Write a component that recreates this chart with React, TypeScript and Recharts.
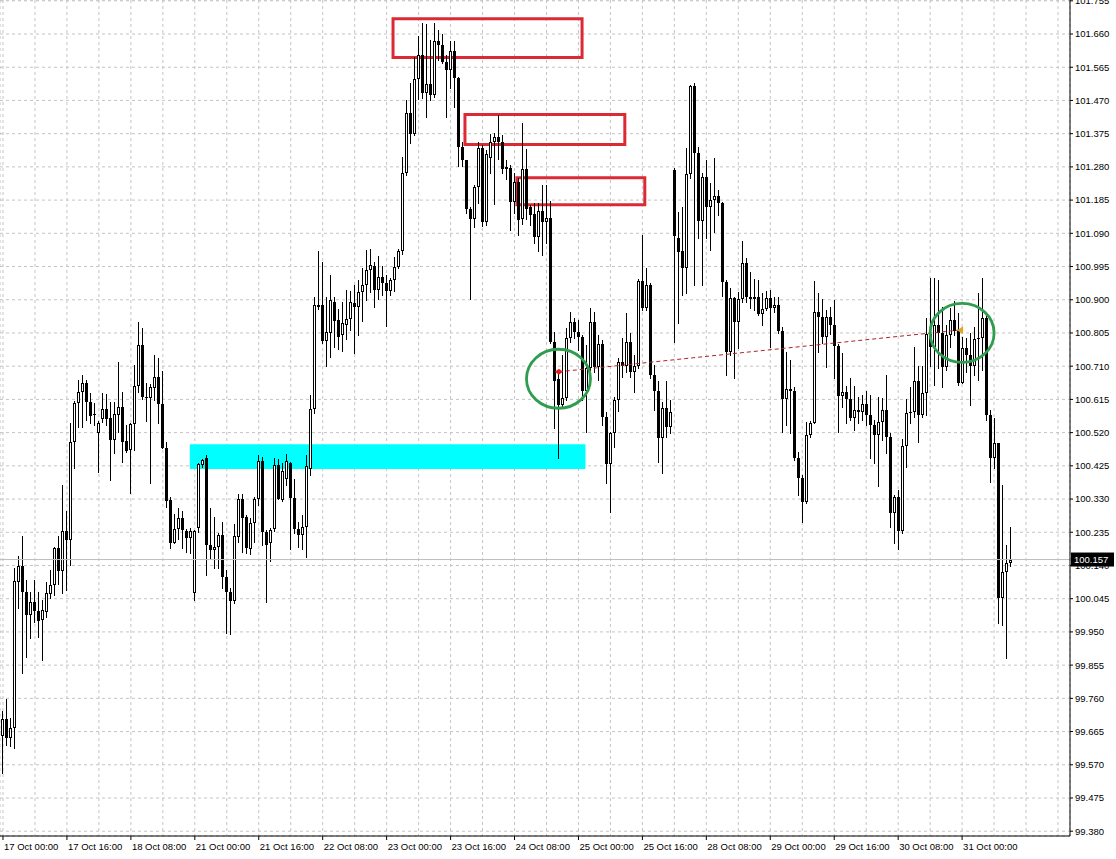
import {
  ComposedChart, Bar, XAxis, YAxis, CartesianGrid,
  ReferenceArea, ReferenceLine, ReferenceDot,
} from 'recharts'

const FONT = '"Liberation Sans", Arial, sans-serif'

// H1 candles, 17 Oct 00:00 .. 31 Oct 12:00
const OPEN = [
  99.652, 99.700, 99.646, 99.675, 100.092, 100.138, 100.064, 99.998, 100.035, 100.009,
  99.984, 100.006, 100.058, 100.084, 100.190, 100.124, 100.238, 100.213, 100.493, 100.604,
  100.636, 100.661, 100.607, 100.573, 100.520, 100.559, 100.587, 100.561, 100.499, 100.570,
  100.593, 100.496, 100.470, 100.544, 100.653, 100.770, 100.621, 100.619, 100.647, 100.679,
  100.602, 100.476, 100.327, 100.204, 100.244, 100.276, 100.238, 100.218, 100.061, 100.247,
  100.427, 100.447, 100.199, 100.184, 100.193, 100.227, 100.107, 100.064, 100.038, 100.221,
  100.330, 100.279, 100.187, 100.261, 100.330, 100.438, 100.235, 100.204, 100.244, 100.427,
  100.327, 100.387, 100.433, 100.333, 100.244, 100.227, 100.250, 100.416, 100.587, 100.879,
  100.885, 100.782, 100.804, 100.893, 100.842, 100.799, 100.827, 100.845, 100.890, 100.879,
  100.922, 100.942, 100.985, 100.996, 100.928, 100.965, 100.948, 100.925, 100.956, 100.993,
  101.039, 101.262, 101.434, 101.374, 101.531, 101.600, 101.491, 101.517, 101.486, 101.640,
  101.628, 101.580, 101.557, 101.611, 101.534, 101.337, 101.299, 101.159, 101.131, 101.222,
  101.334, 101.122, 101.305, 101.351, 101.365, 101.351, 101.279, 101.277, 101.179, 101.236,
  101.131, 101.274, 101.165, 101.145, 101.079, 101.154, 101.122, 101.134, 100.779, 100.673,
  100.599, 100.619, 100.790, 100.836, 100.807, 100.793, 100.639, 100.704, 100.836, 100.707,
  100.773, 100.564, 100.430, 100.518, 100.613, 100.722, 100.710, 100.779, 100.693, 100.710,
  100.953, 100.876, 100.942, 100.685, 100.639, 100.504, 100.590, 100.536, 101.271, 101.076,
  101.039, 100.991, 101.259, 101.511, 101.319, 101.125, 101.251, 101.165, 101.185, 101.197,
  101.177, 100.950, 100.750, 100.905, 100.836, 100.902, 101.005, 100.908, 100.902, 100.908,
  100.859, 100.873, 100.905, 100.876, 100.885, 100.810, 100.616, 100.645, 100.640, 100.447,
  100.390, 100.321, 100.513, 100.547, 100.865, 100.850, 100.793, 100.850, 100.827, 100.767,
  100.624, 100.636, 100.616, 100.561, 100.584, 100.579, 100.602, 100.570, 100.541, 100.513,
  100.550, 100.584, 100.507, 100.290, 100.336, 100.238, 100.481, 100.576, 100.579, 100.667,
  100.570, 100.633, 100.802, 100.765, 100.827, 100.804, 100.707, 100.799, 100.842, 100.810,
  100.661, 100.762, 100.742, 100.710, 100.788, 100.790, 100.848, 100.570, 100.447, 100.490,
  100.047, 100.121, 100.147,
]
const HIGH = [
  99.723, 99.758, 99.703, 100.132, 100.167, 100.224, 100.098, 100.064, 100.098, 100.064,
  100.041, 100.092, 100.127, 100.193, 100.224, 100.370, 100.295, 100.547, 100.610, 100.670,
  100.685, 100.670, 100.633, 100.604, 100.553, 100.633, 100.630, 100.607, 100.607, 100.721,
  100.636, 100.541, 100.547, 100.713, 100.836, 100.819, 100.661, 100.659, 100.742, 100.734,
  100.696, 100.493, 100.336, 100.287, 100.304, 100.295, 100.244, 100.247, 100.241, 100.432,
  100.444, 100.456, 100.304, 100.279, 100.233, 100.264, 100.127, 100.075, 100.259, 100.345,
  100.345, 100.284, 100.276, 100.336, 100.456, 100.450, 100.241, 100.247, 100.447, 100.444,
  100.432, 100.459, 100.436, 100.387, 100.264, 100.284, 100.456, 100.628, 100.908, 101.039,
  101.007, 100.908, 100.970, 100.908, 100.873, 100.893, 100.928, 100.925, 100.942, 100.956,
  100.991, 101.042, 101.045, 101.007, 101.025, 100.996, 100.970, 100.962, 101.022, 101.045,
  101.308, 101.471, 101.520, 101.594, 101.654, 101.691, 101.689, 101.643, 101.691, 101.671,
  101.660, 101.600, 101.640, 101.640, 101.537, 101.351, 101.299, 101.165, 101.228, 101.351,
  101.342, 101.328, 101.374, 101.377, 101.428, 101.371, 101.299, 101.285, 101.262, 101.248,
  101.405, 101.331, 101.171, 101.177, 101.177, 101.228, 101.228, 101.182, 100.807, 100.693,
  100.742, 100.819, 100.865, 100.848, 100.842, 100.799, 100.770, 100.876, 100.865, 100.799,
  100.785, 100.579, 100.521, 100.622, 100.734, 100.790, 100.862, 100.804, 100.742, 100.959,
  101.085, 100.991, 100.948, 100.713, 100.667, 100.607, 100.667, 100.613, 101.277, 101.151,
  101.165, 101.334, 101.514, 101.520, 101.337, 101.262, 101.299, 101.234, 101.305, 101.214,
  101.179, 100.956, 100.933, 100.908, 100.922, 101.068, 101.019, 100.979, 100.959, 100.956,
  100.919, 100.925, 100.928, 100.908, 100.908, 100.822, 100.750, 100.727, 100.650, 100.464,
  100.399, 100.550, 100.553, 100.953, 100.919, 100.902, 100.870, 100.879, 100.899, 100.773,
  100.747, 100.653, 100.676, 100.653, 100.622, 100.627, 100.639, 100.627, 100.556, 100.622,
  100.619, 100.685, 100.518, 100.342, 100.356, 100.501, 100.616, 100.650, 100.765, 100.710,
  100.710, 100.848, 100.962, 100.962, 100.956, 100.879, 100.827, 100.876, 100.896, 100.862,
  100.793, 100.790, 100.804, 100.822, 100.919, 100.962, 100.856, 100.584, 100.561, 100.490,
  100.370, 100.199, 100.250,
]
const LOW = [
  99.546, 99.627, 99.624, 99.618, 100.018, 99.832, 99.878, 99.932, 99.978, 99.935,
  99.869, 99.992, 100.047, 100.056, 100.087, 100.061, 100.070, 100.141, 100.418, 100.536,
  100.536, 100.556, 100.547, 100.541, 100.407, 100.550, 100.541, 100.384, 100.462, 100.521,
  100.436, 100.464, 100.347, 100.470, 100.636, 100.616, 100.553, 100.376, 100.613, 100.547,
  100.476, 100.307, 100.190, 100.204, 100.216, 100.190, 100.178, 100.175, 100.041, 100.235,
  100.421, 100.112, 100.161, 100.132, 100.132, 100.075, 99.946, 99.944, 100.032, 100.207,
  100.178, 100.175, 100.173, 100.207, 100.313, 100.199, 100.035, 100.152, 100.238, 100.330,
  100.324, 100.370, 100.187, 100.233, 100.193, 100.187, 100.164, 100.399, 100.576, 100.873,
  100.776, 100.710, 100.736, 100.765, 100.759, 100.753, 100.788, 100.813, 100.747, 100.799,
  100.839, 100.899, 100.922, 100.879, 100.902, 100.913, 100.824, 100.913, 100.925, 100.991,
  101.031, 101.257, 101.348, 101.371, 101.474, 101.477, 101.422, 101.471, 101.480, 101.585,
  101.577, 101.422, 101.506, 101.451, 101.282, 101.282, 101.148, 100.902, 101.108, 101.176,
  101.111, 101.114, 101.262, 101.174, 101.302, 101.262, 101.245, 101.099, 101.148, 101.085,
  101.116, 101.131, 101.114, 101.062, 101.039, 101.028, 101.062, 100.776, 100.533, 100.447,
  100.593, 100.613, 100.779, 100.790, 100.756, 100.613, 100.521, 100.699, 100.693, 100.670,
  100.541, 100.376, 100.293, 100.479, 100.581, 100.679, 100.693, 100.679, 100.636, 100.704,
  100.870, 100.870, 100.676, 100.584, 100.436, 100.404, 100.507, 100.518, 100.779, 100.833,
  100.913, 100.919, 101.248, 100.942, 101.076, 100.942, 101.076, 101.042, 101.093, 101.142,
  100.910, 100.685, 100.742, 100.676, 100.762, 100.893, 100.893, 100.876, 100.870, 100.856,
  100.827, 100.870, 100.765, 100.865, 100.804, 100.521, 100.541, 100.518, 100.441, 100.342,
  100.264, 100.318, 100.507, 100.547, 100.750, 100.776, 100.707, 100.802, 100.676, 100.521,
  100.593, 100.547, 100.556, 100.527, 100.547, 100.556, 100.541, 100.447, 100.433, 100.367,
  100.499, 100.462, 100.250, 100.204, 100.187, 100.233, 100.421, 100.547, 100.564, 100.493,
  100.564, 100.570, 100.710, 100.656, 100.704, 100.650, 100.699, 100.765, 100.799, 100.656,
  100.661, 100.693, 100.599, 100.685, 100.670, 100.699, 100.556, 100.379, 100.418, 99.975,
  99.970, 99.875, 100.138,
]
const CLOSE = [
  99.700, 99.646, 99.675, 100.095, 100.138, 100.064, 99.998, 100.035, 100.009, 99.981,
  100.012, 100.061, 100.084, 100.190, 100.124, 100.238, 100.213, 100.493, 100.604, 100.636,
  100.661, 100.607, 100.567, 100.570, 100.547, 100.587, 100.559, 100.499, 100.573, 100.593,
  100.493, 100.467, 100.544, 100.653, 100.770, 100.621, 100.619, 100.650, 100.679, 100.602,
  100.476, 100.324, 100.204, 100.244, 100.276, 100.241, 100.218, 100.238, 100.238, 100.430,
  100.441, 100.199, 100.184, 100.193, 100.227, 100.107, 100.064, 100.038, 100.224, 100.330,
  100.276, 100.190, 100.261, 100.330, 100.438, 100.235, 100.199, 100.241, 100.427, 100.330,
  100.410, 100.438, 100.333, 100.244, 100.227, 100.250, 100.424, 100.587, 100.885, 100.885,
  100.782, 100.807, 100.899, 100.839, 100.793, 100.833, 100.845, 100.893, 100.879, 100.922,
  100.942, 100.985, 100.999, 100.928, 100.965, 100.948, 100.925, 100.956, 100.993, 101.039,
  101.262, 101.434, 101.374, 101.531, 101.600, 101.491, 101.517, 101.486, 101.640, 101.628,
  101.580, 101.557, 101.611, 101.534, 101.337, 101.299, 101.159, 101.131, 101.222, 101.334,
  101.122, 101.317, 101.351, 101.365, 101.351, 101.274, 101.274, 101.179, 101.236, 101.128,
  101.274, 101.159, 101.142, 101.079, 101.154, 101.122, 101.134, 100.779, 100.667, 100.599,
  100.619, 100.790, 100.836, 100.807, 100.793, 100.639, 100.704, 100.836, 100.707, 100.773,
  100.564, 100.430, 100.518, 100.613, 100.722, 100.710, 100.779, 100.693, 100.710, 100.953,
  100.876, 100.942, 100.685, 100.639, 100.504, 100.590, 100.536, 100.579, 101.082, 101.036,
  100.991, 101.259, 101.511, 101.319, 101.125, 101.251, 101.165, 101.185, 101.197, 101.177,
  100.950, 100.750, 100.905, 100.836, 100.902, 101.005, 100.908, 100.902, 100.908, 100.859,
  100.873, 100.905, 100.876, 100.885, 100.810, 100.616, 100.645, 100.640, 100.447, 100.390,
  100.321, 100.513, 100.547, 100.865, 100.850, 100.793, 100.850, 100.827, 100.767, 100.624,
  100.636, 100.616, 100.561, 100.584, 100.579, 100.602, 100.570, 100.541, 100.513, 100.550,
  100.584, 100.507, 100.290, 100.336, 100.238, 100.481, 100.576, 100.579, 100.667, 100.570,
  100.633, 100.802, 100.765, 100.827, 100.804, 100.707, 100.799, 100.842, 100.810, 100.661,
  100.762, 100.742, 100.710, 100.788, 100.790, 100.848, 100.570, 100.447, 100.490, 100.047,
  100.121, 100.147, 100.157,
]

const PRICE_TICKS = [
  99.380, 99.475, 99.570, 99.665, 99.760, 99.855, 99.950, 100.045, 100.140,
  100.235, 100.330, 100.425, 100.520, 100.615, 100.710, 100.805, 100.900,
  100.995, 101.090, 101.185, 101.280, 101.375, 101.470, 101.565, 101.660, 101.755,
]
const TIME_TICKS = [0, 16, 32, 48, 64, 80, 96, 112, 128, 144, 160, 176, 192, 208, 224, 240]
const TIME_LABELS = [
  '17 Oct 00:00', '17 Oct 16:00', '18 Oct 08:00', '21 Oct 00:00', '21 Oct 16:00',
  '22 Oct 08:00', '23 Oct 00:00', '23 Oct 16:00', '24 Oct 08:00', '25 Oct 00:00',
  '25 Oct 16:00', '28 Oct 08:00', '29 Oct 00:00', '29 Oct 16:00', '30 Oct 08:00', '31 Oct 00:00',
]
const GRID_TICKS = [
  0, 8, 16, 24, 32, 40, 48, 56, 64, 72, 80, 88, 96, 104, 112, 120, 128,
  136, 144, 152, 160, 168, 176, 184, 192, 200, 208, 216, 224, 232, 240, 248, 256, 264,
]
const LAST_PRICE = 100.157

// drawn objects (bar index / price)
const RED_BOXES = [
  { x1: 97.6, x2: 144.9, y1: 101.593, y2: 101.704 },
  { x1: 115.6, x2: 155.6, y1: 101.344, y2: 101.430 },
  { x1: 128.6, x2: 160.6, y1: 101.172, y2: 101.249 },
]
const CYAN_ZONE = { x1: 46.75, x2: 145.75, y1: 100.416, y2: 100.487 }
const CIRCLES = [
  { x: 139, y: 100.674 },
  { x: 240, y: 100.805 },
]
const TREND = { x1: 139.1, y1: 100.694, x2: 239, y2: 100.813 }

const X_DOMAIN: [number, number] = [-0.75, 267]
const Y_DOMAIN: [number, number] = [99.3663, 101.7573]

const candles = OPEN.map((o, i) => ({
  i, open: o, high: HIGH[i], low: LOW[i], close: CLOSE[i], range: [LOW[i], HIGH[i]],
}))

function Candle(props: any) {
  const { x, y, width, height, payload } = props
  if (!payload || x == null || y == null) return null
  const { open, close, high, low } = payload
  const top0 = Math.min(y, y + height)
  const h = Math.abs(height)
  const span = high - low
  const toY = (v: number) => (span > 0 ? top0 + ((high - v) / span) * h : top0)
  const col = Math.round(x + width / 2)
  const wx = col + 0.5
  const yH = Math.round(toY(high))
  const yL = Math.round(toY(low))
  const top = Math.round(toY(Math.max(open, close)))
  const bot = Math.round(toY(Math.min(open, close)))
  const bull = close >= open
  return (
    <g>
      <line x1={wx} x2={wx} y1={yH} y2={yL + 1} stroke="#000" strokeWidth={1} />
      {bull && bot - top >= 2 ? (
        <rect x={col - 0.5} y={top + 0.5} width={2} height={bot - top - 1} fill="#fff" stroke="#000" strokeWidth={1} />
      ) : (
        <rect x={col - 1} y={top} width={3} height={Math.max(bot - top, 1)} fill="#000" />
      )}
    </g>
  )
}

function TimeTick({ x, y, payload }: any) {
  const idx = TIME_TICKS.indexOf(payload.value)
  return (
    <text x={x + 1} y={y + 8} fontSize={9.5} fontFamily={FONT} fill="#000">
      {TIME_LABELS[idx]}
    </text>
  )
}

function PriceTag({ viewBox }: any) {
  if (!viewBox) return null
  const x = viewBox.x + viewBox.width + 1
  const y = viewBox.y
  return (
    <g>
      <rect x={x} y={y - 7} width={43} height={14} fill="#000" />
      <text x={x + 3} y={y + 3.5} fontSize={9.5} fontFamily={FONT} fill="#fff">
        {LAST_PRICE.toFixed(3)}
      </text>
    </g>
  )
}

function Ring({ cx, cy }: any) {
  return <ellipse cx={cx} cy={cy} rx={32} ry={29.5} fill="none" stroke="#2f9d4e" strokeWidth={2.8} />
}

function StartMark({ cx, cy }: any) {
  return (
    <path d={`M${cx - 4},${cy} L${cx},${cy - 3} L${cx + 4},${cy} L${cx},${cy + 3} Z`} fill="#e02020" />
  )
}

function EndMark({ cx, cy }: any) {
  return <path d={`M${cx - 1},${cy} L${cx + 5},${cy - 4} L${cx + 5},${cy + 4} Z`} fill="#e0a526" />
}

export default function App() {
  return (
    <div style={{ position: 'absolute', left: 0, top: 0, width: 1116, height: 859, background: '#fff' }}>
      <ComposedChart width={1116} height={859} data={candles} margin={{ top: 0, right: 0, bottom: 0, left: 0 }}>
        <CartesianGrid xAxisId="grid" stroke="#c4c4c4" strokeDasharray="3 3" />
        <XAxis
          dataKey="i" type="number" domain={X_DOMAIN} allowDataOverflow
          ticks={TIME_TICKS} interval={0} height={23} tickSize={4}
          tick={<TimeTick />} axisLine={{ stroke: '#000' }} tickLine={{ stroke: '#000' }}
        />
        <XAxis xAxisId="grid" dataKey="i" type="number" domain={X_DOMAIN} allowDataOverflow ticks={GRID_TICKS} interval={0} hide />
        <YAxis
          orientation="right" type="number" domain={Y_DOMAIN} allowDataOverflow
          ticks={PRICE_TICKS} interval={0} width={46} tickSize={3} tickMargin={2}
          tickFormatter={(v: number) => v.toFixed(3)}
          tick={{ fontSize: 9.5, fill: '#000', fontFamily: FONT }}
          axisLine={{ stroke: '#000' }} tickLine={{ stroke: '#000' }}
        />
        <ReferenceArea
          x1={CYAN_ZONE.x1} x2={CYAN_ZONE.x2} y1={CYAN_ZONE.y1} y2={CYAN_ZONE.y2}
          fill="#00ffff" fillOpacity={1} stroke="none"
        />
        <ReferenceLine y={LAST_PRICE} stroke="#bdbdbd" strokeWidth={1} label={PriceTag} />
        <Bar dataKey="range" barSize={3} shape={<Candle />} isAnimationActive={false} />
        {RED_BOXES.map((b, k) => (
          <ReferenceArea key={k} x1={b.x1} x2={b.x2} y1={b.y1} y2={b.y2} fill="none" stroke="#dc2a35" strokeWidth={3} />
        ))}
        <ReferenceLine
          segment={[{ x: TREND.x1, y: TREND.y1 }, { x: TREND.x2, y: TREND.y2 }]}
          stroke="#b22222" strokeWidth={1} strokeDasharray="4 3"
        />
        <ReferenceDot x={TREND.x1} y={TREND.y1} shape={<StartMark />} />
        <ReferenceDot x={TREND.x2} y={TREND.y2} shape={<EndMark />} />
        {CIRCLES.map((c, k) => (
          <ReferenceDot key={k} x={c.x} y={c.y} shape={<Ring />} />
        ))}
      </ComposedChart>
    </div>
  )
}
